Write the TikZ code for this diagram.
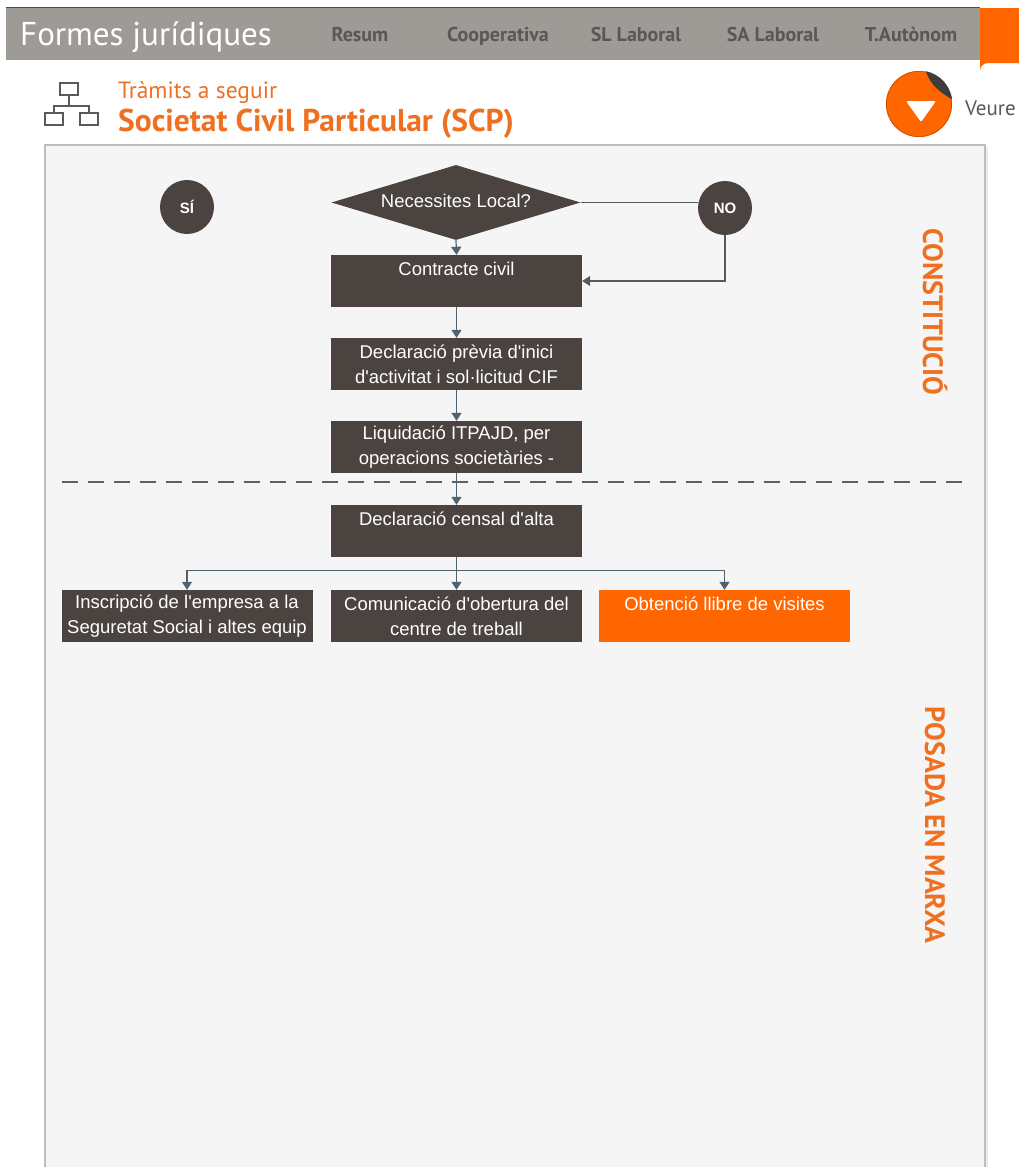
\documentclass[tikz,border=0pt]{standalone}
\usepackage{fontspec}
\setmainfont{Liberation Sans}[Ligatures=TeXOff]
\newfontfamily\hdr{PT Sans}
\usetikzlibrary{shapes.geometric,arrows.meta}
\definecolor{barc}{RGB}{158,154,150}
\definecolor{orng}{RGB}{255,102,0}
\definecolor{otxt}{RGB}{238,112,32}
\definecolor{boxc}{RGB}{74,67,63}
\definecolor{panelc}{RGB}{245,245,245}
\definecolor{panelb}{RGB}{190,190,190}
\definecolor{navc}{RGB}{88,88,88}
\definecolor{linec}{RGB}{78,98,112}
\definecolor{iconc}{RGB}{90,90,90}
\tikzset{
  box/.style={fill=boxc, text=white, minimum width=251pt, minimum height=52pt, inner sep=0pt, align=center, font=\fontsize{18.5}{25}\selectfont},
  topbox/.style={box, text height=20pt, text depth=32pt},
  obox/.style={topbox, fill=orng},
  circ/.style={circle, fill=boxc, text=white, minimum size=54pt, inner sep=0pt, font=\fontsize{15}{15}\selectfont\bfseries},
  conn/.style={draw=linec, line width=1.2pt, -{Triangle[width=10pt,length=8pt]}},
  nav/.style={anchor=base, text=navc, font=\hdr\bfseries\fontsize{20}{20}\selectfont},
  vlab/.style={rotate=-90, text=otxt, font=\hdr\bfseries\fontsize{28}{28}\selectfont}
}
\begin{document}
\begin{tikzpicture}[x=1pt,y=-1pt]
\useasboundingbox (0,0) rectangle (1019,1167);
\fill[white] (0,0) rectangle (1019,1167);
% header bar
\fill[barc] (6,8) rectangle (980,60);
\draw[gray!60!black, line width=1pt] (6,7.5) -- (980,7.5);
\fill[orng] (980,8) -- (1019,8) -- (1019,63) -- (988,63) arc[start angle=-90,end angle=-180,radius=8] -- cycle;
\node[anchor=base west, text=white, font=\hdr\fontsize{33}{33}\selectfont, inner sep=0pt] (title) at (20,45) {Formes jurídiques};
\node[nav] (n1) at (360,41) {Resum};
\node[nav] (n2) at (498,41) {Cooperativa};
\node[nav] (n3) at (636,41) {SL Laboral};
\node[nav] (n4) at (773,41) {SA Laboral};
\node[nav] (n5) at (911,41) {T.Autònom};
% icon
\begin{scope}[draw=iconc, line width=2pt]
\draw (60,83) rectangle (78,95);
\draw (69,95) -- (69,106);
\draw (54,113) -- (54,106) -- (89,106) -- (89,113);
\draw (45,113) rectangle (63,125);
\draw (80,113) rectangle (98,125);
\end{scope}
\node[anchor=base west, text=otxt, font=\hdr\fontsize{23.5}{23.5}\selectfont, inner sep=0pt] (sub) at (118,98) {Tràmits a seguir};
\node[anchor=base west, text=otxt, font=\hdr\bfseries\fontsize{31.5}{31.5}\selectfont, inner sep=0pt] (scp) at (118,131) {Societat Civil Particular (SCP)};
% orange sticker
\fill[orng] (919,104) circle[radius=33];
\draw[orng!80!black, line width=0.8pt] (919,104) circle[radius=32.6];
\fill[black!76] (925.9,71.2) arc[start angle=-78, end angle=-8, radius=33.5] .. controls (941,93) and (930,85) .. cycle;
\fill[white, rounded corners=1.5pt] (906,101) -- (936,101) -- (921,122) -- cycle;
\node[anchor=base west, text=navc, font=\hdr\fontsize{21}{21}\selectfont, inner sep=0pt] (veure) at (965,115) {Veure};
% panel
\fill[black!8] (47,147) rectangle (988,1175);
\filldraw[fill=panelc, draw=panelb, line width=1.5pt] (45,145) rectangle (985,1175);
% dashed divider
\draw[gray!75!black, line width=1.3pt, dash pattern=on 16pt off 10pt] (62,482) -- (965,482);
% labels
\node[vlab] (constit) at (935,312) {CONSTITUCIÓ};
\node[vlab] (posada) at (935,825) {POSADA EN MARXA};
% flow
\node[circ] (si) at (187,207) {SÍ};
\node[circ] (no) at (725,208) {NO};
\node[diamond, aspect=3.32, fill=boxc, text=white, minimum width=249pt, minimum height=75pt, inner sep=0pt, font=\fontsize{18.5}{22}\selectfont] (dia) at (456,202.5) {\raisebox{3pt}{Necessites Local?}};
\node[topbox] (cc) at (456.5,281) {Contracte civil};
\node[box] (dp) at (456.5,364) {Declaració prèvia d'inici\\d'activitat i sol·licitud CIF};
\node[box] (liq) at (456.5,447) {Liquidació ITPAJD, per\\operacions societàries -};
\node[topbox] (dc) at (456.5,531) {Declaració censal d'alta};
\node[box] (ins) at (187,616) {Inscripció de l'empresa a la\\Seguretat Social i altes equip};
\node[box] (com) at (456.5,616) {Comunicació d'obertura del\\centre de treball};
\node[obox] (obt) at (724.5,616) {Obtenció llibre de visites};
% connectors
\draw[draw=black!65, line width=1.2pt] (dia.east) -- (dia.east -| no.west);
\draw[draw=black!65, line width=1.2pt, -{Triangle[width=10pt,length=8pt]}] (no.south) |- (cc.east);
\draw[conn] (dia.south) -- (cc.north);
\draw[conn] (cc) -- (dp);
\draw[conn] (dp) -- (liq);
\draw[conn] (liq) -- (dc);
\draw[conn] (dc.south) -- ++(0,13) -| (ins.north);
\draw[conn] (dc.south) -- ++(0,13) -| (obt.north);
\draw[conn] (dc) -- (com);
\end{tikzpicture}
\end{document}
